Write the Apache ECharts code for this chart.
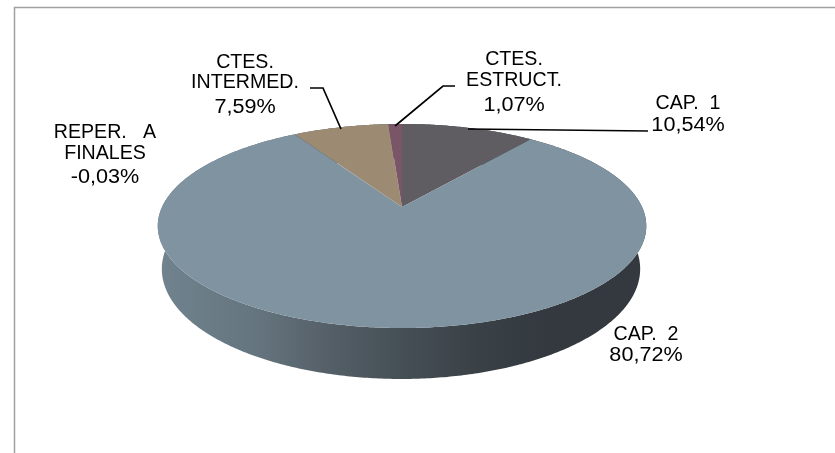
<!DOCTYPE html>
<html>
<head>
<meta charset="utf-8">
<title>Pie</title>
<style>
  html, body { margin: 0; padding: 0; background: #fff; }
  #main { width: 835px; height: 453px; }
</style>
<script src="https://cdn.jsdelivr.net/npm/echarts@6/dist/echarts.min.js"></script>
</head>
<body>
<div id="main"></div>
<script>
// clockwise from 12 o'clock, as in the source chart
var categories = ['CAP. 1', 'CAP. 2', 'REPER. A FINALES', 'CTES. INTERMED.', 'CTES. ESTRUCT.'];
var values = [10.54, 80.72, -0.03, 7.59, 1.07];
var labelTexts = [
  ['CAP.  1', '10,54%'],
  ['CAP.  2', '80,72%'],
  ['REPER.   A', 'FINALES', '-0,03%'],
  ['CTES.', 'INTERMED.', '7,59%'],
  ['CTES.', 'ESTRUCT.', '1,07%']
];
var sliceColors = ['#5f5c62', '#7f93a1', '#7f93a1', '#9c8a72', '#7a5567'];

// label layout, one y per text line
var labelX = [688, 646, 105, 245, 514];
var labelY = [[103, 125], [334, 355], [132, 153, 177], [62, 82, 107], [59, 80, 105]];
var leaders = [
  [[648, 131], [468, 129]],
  null,
  null,
  [[310, 88], [323, 88], [341, 129]],
  [[455, 86], [443, 86], [395, 126]]
];

// tilted disc: top face and bottom face of the pie
var topFace = { cx: 402, cy: 207, bx: 240, ay: 98.5, k: 0.186 };
var bottomFace = { cx: 401, cy: 248.5, bx: 235, ay: 106.2, k: 0.186 };

function project(face, a) {
  var u = Math.sin(a), v = Math.cos(a);
  var w = 1 + face.k * v;
  return [face.cx + face.bx * u / w, face.cy - face.ay * v / w];
}

function rim(face, a0, a1) {
  var n = Math.max(2, Math.ceil((a1 - a0) / 0.01));
  var pts = [];
  for (var i = 0; i <= n; i++) {
    pts.push(project(face, a0 + (a1 - a0) * i / n));
  }
  return pts;
}

var total = values.reduce(function (s, x) { return s + Math.abs(x); }, 0);
var angles = [];
var acc = 0;
values.forEach(function (x) {
  var start = acc;
  acc += Math.abs(x) / total * Math.PI * 2;
  angles.push([start, acc]);
});

var wallFill = new echarts.graphic.LinearGradient(158, 0, 645, 0, [
  { offset: 0, color: '#70838e' },
  { offset: 0.2, color: '#65757f' },
  { offset: 0.35, color: '#555f67' },
  { offset: 0.5, color: '#454f56' },
  { offset: 0.66, color: '#3a4146' },
  { offset: 0.8, color: '#33393f' },
  { offset: 1, color: '#33393f' }
], true);

var textStyle = {
  fontFamily: 'Liberation Sans',
  fontSize: 20,
  fill: '#000',
  align: 'center',
  verticalAlign: 'middle'
};

function renderWall(params) {
  var a = angles[params.dataIndex];
  var top = rim(topFace, a[0], a[1]);
  var bottom = rim(bottomFace, a[0], a[1]).reverse();
  return { type: 'polygon', shape: { points: top.concat(bottom) }, style: { fill: wallFill } };
}

function renderSlice(params) {
  var i = params.dataIndex;
  var a = angles[i];
  var pts = [[topFace.cx, topFace.cy]].concat(rim(topFace, a[0], a[1]));
  return { type: 'polygon', shape: { points: pts }, style: { fill: sliceColors[i] } };
}

function renderLabel(params) {
  var i = params.dataIndex;
  var children = [];
  if (leaders[i]) {
    children.push({
      type: 'polyline',
      shape: { points: leaders[i] },
      style: { stroke: '#000', lineWidth: 1.7, fill: null }
    });
  }
  labelTexts[i].forEach(function (line, j) {
    // the percent lines are set wider in the source
    var isPercent = line.indexOf('%') >= 0;
    children.push({
      type: 'text',
      x: labelX[i],
      y: labelY[i][j],
      scaleX: isPercent ? 1.08 : 0.98,
      style: Object.assign({ text: line }, textStyle)
    });
  });
  return { type: 'group', children: children };
}

var seriesData = categories.map(function (name, i) {
  return { name: name, value: values[i] };
});

var chart = echarts.init(document.getElementById('main'), null, { renderer: 'canvas' });
chart.setOption({
  animation: false,
  backgroundColor: '#fff',
  graphic: [
    {
      type: 'polyline',
      shape: { points: [[14.5, 453], [14.5, 7.5], [835, 7.5]] },
      style: { stroke: '#a0a0a0', lineWidth: 1.5, fill: null }
    }
  ],
  series: [
    { type: 'custom', coordinateSystem: 'none', z: 1, renderItem: renderWall, data: seriesData },
    { type: 'custom', coordinateSystem: 'none', z: 2, renderItem: renderSlice, data: seriesData },
    { type: 'custom', coordinateSystem: 'none', z: 3, renderItem: renderLabel, data: seriesData }
  ]
});
</script>
</body>
</html>
